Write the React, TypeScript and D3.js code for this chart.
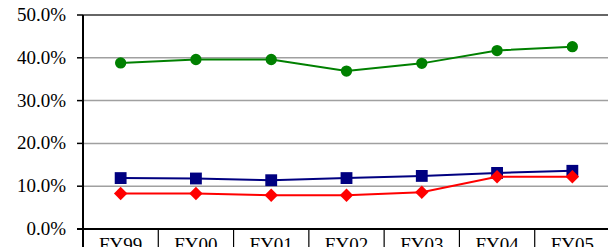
import React, { useEffect, useRef } from 'react';
import * as d3 from 'd3';

const width = 608;
const height = 247;
const margin = { top: 15, left: 83, bottom: 18, right: -2 };
const iwidth = width - margin.left - margin.right;
const iheight = height - margin.top - margin.bottom;

const categories = ['FY99', 'FY00', 'FY01', 'FY02', 'FY03', 'FY04', 'FY05'];
const greenSeries = [38.8, 39.6, 39.6, 36.9, 38.7, 41.7, 42.6];
const blueSeries = [11.9, 11.8, 11.4, 11.9, 12.4, 13.1, 13.6];
const redSeries = [8.3, 8.3, 7.9, 7.9, 8.6, 12.2, 12.2];
const yTicks = [0, 10, 20, 30, 40, 50];

const serif = "Liberation Serif";

const App = () => {
  const ref = useRef<SVGSVGElement>(null);

  useEffect(() => {
    const svg = d3.select(ref.current);
    svg.selectAll('*').remove();
    const g = svg.append('g').attr('transform', `translate(${margin.left},${margin.top})`);

    const x = d3.scaleBand().domain(categories).range([0, iwidth]).padding(0);
    const y = d3.scaleLinear().domain([0, 50]).range([iheight, 0]);
    const cx = (c: string) => (x(c) as number) + x.bandwidth() / 2;

    // gridlines
    g.selectAll('line.grid')
      .data(yTicks.filter(t => t > 0))
      .enter()
      .append('line')
      .attr('x1', 0)
      .attr('x2', iwidth)
      .attr('y1', d => y(d))
      .attr('y2', d => y(d))
      .attr('stroke', d => (d === 50 ? '#333' : '#a0a0a0'))
      .attr('stroke-width', 1.5);

    // y ticks + labels
    g.selectAll('line.tick')
      .data(yTicks)
      .enter()
      .append('line')
      .attr('x1', -6)
      .attr('x2', 0)
      .attr('y1', d => y(d))
      .attr('y2', d => y(d))
      .attr('stroke', '#000')
      .attr('stroke-width', 1.5);

    g.selectAll('text.ylab')
      .data(yTicks)
      .enter()
      .append('text')
      .attr('x', -17)
      .attr('y', d => y(d) + 6)
      .attr('text-anchor', 'end')
      .attr('font-family', serif)
      .attr('font-size', 19)
      .attr('fill', '#000')
      .text(d => d.toFixed(1) + '%');

    // axes
    g.append('line')
      .attr('x1', 0).attr('x2', 0).attr('y1', 0).attr('y2', iheight + 20)
      .attr('stroke', '#000').attr('stroke-width', 2);
    g.append('line')
      .attr('x1', -6).attr('x2', iwidth).attr('y1', iheight).attr('y2', iheight)
      .attr('stroke', '#000').attr('stroke-width', 2);

    // category dividers
    g.selectAll('line.div')
      .data(categories.slice(1))
      .enter()
      .append('line')
      .attr('x1', d => x(d) as number)
      .attr('x2', d => x(d) as number)
      .attr('y1', iheight)
      .attr('y2', iheight + 20)
      .attr('stroke', '#000')
      .attr('stroke-width', 1.2);

    g.selectAll('text.xlab')
      .data(categories)
      .enter()
      .append('text')
      .attr('x', d => cx(d))
      .attr('y', iheight + 22)
      .attr('text-anchor', 'middle')
      .attr('font-family', serif)
      .attr('font-size', 19)
      .attr('fill', '#000')
      .text(d => d);

    const line = d3.line<number>()
      .x((_, i) => cx(categories[i]))
      .y(d => y(d));

    const series = [
      { values: greenSeries, color: '#008000', shape: d3.symbolCircle, size: 100, rot: 0 },
      { values: blueSeries, color: '#000080', shape: d3.symbolSquare, size: 140, rot: 0 },
      { values: redSeries, color: '#ff0000', shape: d3.symbolSquare, size: 90, rot: 45 },
    ];

    series.forEach(s => {
      g.append('path')
        .datum(s.values)
        .attr('fill', 'none')
        .attr('stroke', s.color)
        .attr('stroke-width', 2)
        .attr('d', line);
      g.selectAll(null)
        .data(s.values)
        .enter()
        .append('path')
        .attr('d', d3.symbol().type(s.shape).size(s.size))
        .attr('transform', (d, i) => `translate(${cx(categories[i])},${y(d)}) rotate(${s.rot})`)
        .attr('fill', s.color);
    });
  }, []);

  return (
    <svg
      ref={ref}
      width={width}
      height={height}
      style={{ position: 'absolute', left: 0, top: 0, background: '#fff' }}
    />
  );
};

export default App;
